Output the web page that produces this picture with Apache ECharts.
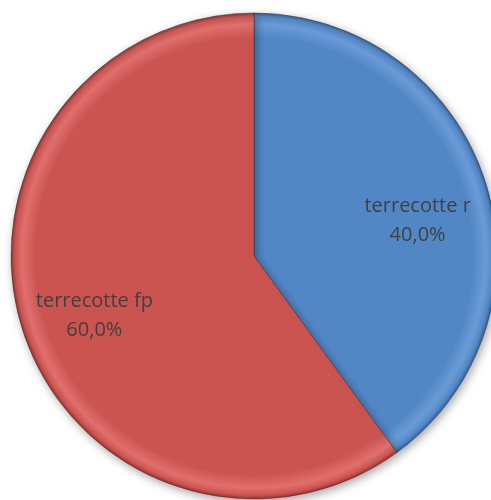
<!DOCTYPE html>
<html>
<head>
<meta charset="utf-8">
<script src="https://cdn.jsdelivr.net/npm/echarts@6/dist/echarts.min.js"></script>
<style>html,body{margin:0;padding:0;background:#fff}#c{width:491px;height:500px}</style>
</head>
<body>
<div id="c"></div>
<script>
const categories = ['terrecotte r', 'terrecotte fp'];
const values = [40, 60];
const colors = ['#5287C6', '#CB5451'];

const CX = 254, CY = 256, R = 243;
const labelOffsets = [[1, 18], [3, 7]];
function grad(base, light, dark) {
  return {
    type: 'radial', x: CX, y: CY, r: R, global: true,
    colorStops: [
      { offset: 0, color: base },
      { offset: 0.9, color: base },
      { offset: 0.955, color: light },
      { offset: 0.985, color: base },
      { offset: 1, color: dark }
    ]
  };
}
const lights = ['#6A9BD6', '#E0706C'];
const darks = ['#2F5F96', '#8E3330'];
const total = values.reduce((a, b) => a + b, 0);

const chart = echarts.init(document.getElementById('c'), null, { renderer: 'canvas' });
chart.setOption({
  animation: false,
  series: [
    {
      type: 'pie',
      center: [CX, CY],
      radius: [0, R],
      startAngle: 90,
      clockwise: true,
      silent: true,
      label: { show: false },
      labelLine: { show: false },
      itemStyle: {
        shadowColor: 'rgba(0,0,0,0.35)', shadowBlur: 10, shadowOffsetX: 2, shadowOffsetY: 3,
        borderColor: 'rgba(60,40,40,0.45)', borderWidth: 1
      },
      data: categories.map((c, i) => ({
        name: c, value: values[i],
        itemStyle: { color: grad(colors[i], lights[i], darks[i]) }
      }))
    },
    {
      type: 'pie',
      center: [CX, CY],
      radius: [96, 240],
      startAngle: 90,
      clockwise: true,
      silent: true,
      z: 5,
      itemStyle: { color: 'rgba(0,0,0,0)' },
      labelLine: { show: false },
      label: {
        show: true, position: 'inside',
        color: '#404040', fontFamily: 'Open Sans', fontSize: 20, lineHeight: 29,
        formatter: p => p.name + '\n' + (p.value / total * 100).toFixed(1).replace('.', ',') + '%'
      },
      data: categories.map((c, i) => ({ name: c, value: values[i], label: { offset: labelOffsets[i] } }))
    }
  ]
});
</script>
</body>
</html>
